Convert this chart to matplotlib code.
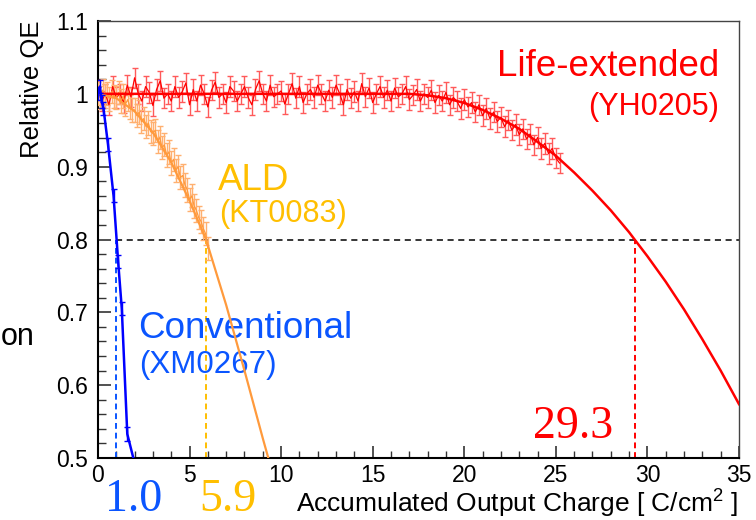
import matplotlib
matplotlib.use("Agg")
import matplotlib.pyplot as plt
from matplotlib.ticker import MultipleLocator

plt.rcParams['font.family'] = ['Liberation Sans', 'DejaVu Sans']
plt.rcParams['mathtext.fontset'] = 'custom'
plt.rcParams['mathtext.rm'] = 'Liberation Sans'

# Life-extended (YH0205) measured points
red_x = [0.0, 0.2, 0.4, 0.6, 0.8, 1.0, 1.2, 1.4, 1.6, 1.8,
         2.0, 2.2, 2.4, 2.6, 2.8, 3.0, 3.2, 3.4, 3.6, 3.8,
         4.0, 4.2, 4.4, 4.6, 4.8, 5.0, 5.2, 5.4, 5.6, 5.8,
         6.0, 6.2, 6.4, 6.6, 6.8, 7.0, 7.2, 7.4, 7.6, 7.8,
         8.0, 8.2, 8.4, 8.6, 8.8, 9.0, 9.2, 9.4, 9.6, 9.8,
         10.0, 10.2, 10.4, 10.6, 10.8, 11.0, 11.2, 11.4, 11.6, 11.8,
         12.0, 12.2, 12.4, 12.6, 12.8, 13.0, 13.2, 13.4, 13.6, 13.8,
         14.0, 14.2, 14.4, 14.6, 14.8, 15.0, 15.2, 15.4, 15.6, 15.8,
         16.0, 16.2, 16.4, 16.6, 16.8, 17.0, 17.2, 17.4, 17.6, 17.8,
         18.0, 18.2, 18.4, 18.6, 18.8, 19.0, 19.2, 19.4, 19.6, 19.8,
         20.0, 20.2, 20.4, 20.6, 20.8, 21.0, 21.2, 21.4, 21.6, 21.8,
         22.0, 22.2, 22.4, 22.6, 22.8, 23.0, 23.2, 23.4, 23.6, 23.8,
         24.0, 24.2, 24.4, 24.6, 24.8, 25.0, 25.2]
red_y = [1.005, 0.99, 1.0, 0.985, 1.01, 0.995, 1.0, 0.988, 1.012, 0.996,
         1.022, 1.0, 0.99, 1.01, 1.002, 0.984, 1.006, 1.018, 0.994, 1.0,
         0.99, 1.01, 0.995, 1.003, 1.015, 0.985, 1.006, 0.99, 1.012, 1.0,
         0.982, 1.005, 1.016, 0.995, 1.0, 0.988, 1.01, 1.004, 0.99, 1.0,
         1.01, 0.995, 0.985, 1.006, 1.018, 1.0, 0.99, 1.012, 0.996, 1.0,
         1.004, 0.986, 1.0, 1.014, 0.994, 1.01, 0.988, 1.0, 1.006, 0.995,
         1.012, 1.0, 0.99, 1.005, 0.995, 1.012, 1.0, 0.985, 1.006, 0.994,
         1.003, 0.99, 1.014, 0.996, 1.008, 0.988, 1.0, 1.01, 0.995, 1.005,
         0.99, 1.008, 0.996, 1.0, 1.01, 0.992, 0.998, 1.006, 0.99, 1.0,
         0.995, 1.005, 0.988, 0.998, 0.99, 1.002, 0.985, 0.995, 0.99, 0.98,
         0.992, 0.982, 0.988, 0.975, 0.985, 0.97, 0.98, 0.966, 0.975, 0.962,
         0.968, 0.955, 0.964, 0.95, 0.958, 0.944, 0.952, 0.938, 0.945, 0.93,
         0.94, 0.925, 0.932, 0.918, 0.925, 0.912, 0.905]
red_err = 0.014

# fitted curve
red_fit_x = [0, 17, 18, 19, 20, 21, 22, 23, 24, 25, 26, 27, 28, 29, 29.3,
             30, 31, 32, 33, 34, 35]
red_fit_y = [1.0, 1.0, 0.998, 0.994, 0.9875, 0.978, 0.966, 0.952, 0.934,
             0.915, 0.892, 0.867, 0.84, 0.81, 0.80, 0.777, 0.742, 0.704,
             0.663, 0.62, 0.574]

# ALD (KT0083)
orange_x = [0.0, 0.125, 0.25, 0.375, 0.5, 0.625, 0.75, 0.875,
            1.0, 1.125, 1.25, 1.375, 1.5, 1.625, 1.75, 1.875,
            2.0, 2.125, 2.25, 2.375, 2.5, 2.625, 2.75, 2.875,
            3.0, 3.125, 3.25, 3.375, 3.5, 3.625, 3.75, 3.875,
            4.0, 4.125, 4.25, 4.375, 4.5, 4.625, 4.75, 4.875,
            5.0, 5.125, 5.25, 5.375, 5.5, 5.625, 5.75, 5.875,
            6.0]
orange_y = [1.0, 0.995, 1.005, 0.997, 1.0, 0.993, 1.003, 0.996,
            0.995, 1.002, 0.99, 0.997, 0.986, 0.992, 0.982, 0.978,
            0.978, 0.97, 0.975, 0.962, 0.966, 0.955, 0.96, 0.948,
            0.946, 0.95, 0.935, 0.94, 0.926, 0.93, 0.916, 0.92,
            0.905, 0.91, 0.895, 0.9, 0.885, 0.888, 0.875, 0.868,
            0.855, 0.86, 0.846, 0.84, 0.83, 0.825, 0.815, 0.808,
            0.788]
orange_err = 0.016
orange_fit_x = [0, 1, 2, 3, 4, 5, 5.9, 7, 8, 9, 9.6]
orange_fit_y = [1.0, 0.994, 0.976, 0.947, 0.906, 0.853, 0.80, 0.71, 0.62,
                0.527, 0.473]

# Conventional (XM0267)
blue_x = [0.0, 0.1, 0.2, 0.3, 0.55, 0.85, 1.1, 1.3, 1.6, 2.3]
blue_y = [1.0, 1.01, 0.99, 0.98, 0.93, 0.86, 0.77, 0.705, 0.533, 0.463]
blue_err = 0.009

# lifetimes at QE = 0.8
life = [1.0, 5.9, 29.3]
life_labels = ["1.0", "5.9", "29.3"]

yticks = [0.5, 0.6, 0.7, 0.8, 0.9, 1.0, 1.1]
ytick_labels = ["0.5", "0.6", "0.7", "0.8", "0.9", "1", "1.1"]
xticks = [0, 5, 10, 15, 20, 25, 30, 35]

RED = "#ff0000"
ORANGE = "#ff9a3c"
GOLD = "#ffbf00"
BLUE = "#0000ff"
BLUE_TXT = "#0a55ff"

fig = plt.figure(figsize=(7.56, 5.2), dpi=100)
ax = fig.add_axes([0.1296, 0.1192, 0.8479, 0.8404])

# reference lines at 0.8
ax.plot([life[0], 35], [0.8, 0.8], color="black", lw=1.1, ls=(0, (4, 3)))
ax.plot([life[0], life[0]], [0.5, 0.8], color=BLUE_TXT, lw=1.4, ls=(0, (3, 2)))
ax.plot([life[1], life[1]], [0.5, 0.8], color=GOLD, lw=1.4, ls=(0, (3, 2)))
ax.plot([life[2], life[2]], [0.5, 0.8], color=RED, lw=1.4, ls=(0, (3, 2)))

# fits
ax.plot(red_fit_x, red_fit_y, color=RED, lw=1.8, zorder=4)
ax.plot(orange_fit_x, orange_fit_y, color=ORANGE, lw=1.6, zorder=4)

# data
ax.errorbar(red_x, red_y, yerr=red_err, color=RED, lw=0.9,
            ecolor="#ff5a5a", elinewidth=1.0, capsize=2.5, zorder=3)
ax.errorbar(orange_x, orange_y, yerr=orange_err, color=ORANGE, lw=0.9,
            ecolor="#ffb070", elinewidth=1.0, capsize=2.5, zorder=3)
ax.errorbar(blue_x, blue_y, yerr=blue_err, color=BLUE, lw=1.8,
            elinewidth=1.0, capsize=2.5, zorder=5)

ax.set_xlim(0, 35)
ax.set_ylim(0.5, 1.1)
ax.set_xticks(xticks)
ax.set_yticks(yticks)
ax.set_yticklabels(ytick_labels)
ax.xaxis.set_minor_locator(MultipleLocator(1))
ax.yaxis.set_minor_locator(MultipleLocator(0.02))
ax.tick_params(which="both", direction="in", top=False, right=False,
               labelsize=16.5, color="#333333")
ax.tick_params(axis="y", which="major", length=9, width=1.2, pad=7)
ax.tick_params(axis="y", which="minor", length=5.5, width=1.0)
ax.tick_params(axis="x", which="major", length=9, width=1.2, pad=4)
ax.tick_params(axis="x", which="minor", length=5, width=1.0)
for side in ["left", "bottom"]:
    ax.spines[side].set_linewidth(1.5)
for side in ["top", "right"]:
    ax.spines[side].set_linewidth(1.0)
    ax.spines[side].set_color("#444444")

# axis titles
fig.text(20 / 756, 1 - 21 / 520, "Relative QE", rotation=90,
         ha="left", va="top", fontsize=18.5)
fig.text(738 / 756, 1 - 512 / 520,
         r"Accumulated Output Charge [ C/cm$^{\mathrm{2}}$ ]",
         ha="right", va="baseline", fontsize=19)

# sample labels
ax.text(33.92, 1.024, "Life-extended", color=RED, fontsize=26.5,
        ha="right", va="baseline")
ax.text(33.92, 0.971, "(YH0205)", color=RED, fontsize=22,
        ha="right", va="baseline")
ax.text(6.55, 0.868, "ALD", color=GOLD, fontsize=26.5, va="baseline")
ax.text(6.6, 0.824, "(KT0083)", color=GOLD, fontsize=22, va="baseline")
ax.text(2.18, 0.665, "Conventional", color=BLUE_TXT, fontsize=26.5,
        va="baseline")
ax.text(2.22, 0.617, "(XM0267)", color=BLUE_TXT, fontsize=22.5,
        va="baseline")

# lifetime numbers
num_font = dict(family="Liberation Serif", fontsize=33, ha="center",
                clip_on=False)
ax.text(1.97, 0.4134, life_labels[0], color=BLUE_TXT, va="bottom", **num_font)
ax.text(7.07, 0.4134, life_labels[1], color=GOLD, va="bottom", **num_font)
ax.text(25.94, 0.527, life_labels[2], color=RED, va="baseline", **num_font)

# fragment of surrounding slide text
fig.text(0.5 / 756, 1 - 345 / 520, "on", ha="left", va="baseline",
         fontsize=22)

fig.savefig("out.png", dpi=100)
